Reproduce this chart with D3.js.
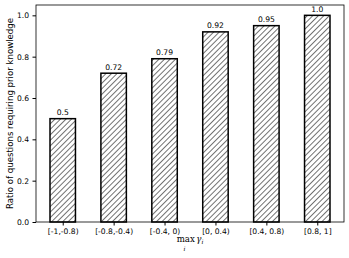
<!DOCTYPE html>
<html>
<head>
<meta charset="utf-8">
<script src="https://cdn.jsdelivr.net/npm/d3@7"></script>
<style>
	body { margin: 0; background: #fff; }
	text { font-family: "DejaVu Sans", sans-serif; }
</style>
</head>
<body>
<svg id="chart" width="349" height="258"></svg>
<script>
var categories = ["[-1,-0.8)", "[-0.8,-0.4)", "[-0.4, 0)", "[0, 0.4)", "[0.4, 0.8)", "[0.8, 1]"];
var ratios = [0.5, 0.72, 0.79, 0.92, 0.95, 1.0];
var valueLabels = ["0.5", "0.72", "0.79", "0.92", "0.95", "1.0"];
var yTicks = [0.0, 0.2, 0.4, 0.6, 0.8, 1.0];

var svg = d3.select("#chart");
var margin = {left: 36, right: 5, top: 5, bottom: 36};
var width = 349, height = 258;
var plotW = width - margin.left - margin.right;
var plotH = height - margin.top - margin.bottom;

var g = svg.append("g").attr("transform", "translate(" + margin.left + "," + margin.top + ")");

// hatch pattern
var hs = 3.9;
var defs = svg.append("defs");
var pat = defs.append("pattern")
	.attr("id", "hatch")
	.attr("patternUnits", "userSpaceOnUse")
	.attr("width", hs)
	.attr("height", hs)
	.attr("patternTransform", "rotate(45)");
pat.append("rect").attr("width", hs).attr("height", hs).attr("fill", "#fff");
pat.append("line").attr("x1", 0).attr("y1", 0).attr("x2", 0).attr("y2", hs)
	.attr("stroke", "#000").attr("stroke-width", 1.1);

// x positions like matplotlib: index units with 5% margin
var idx = d3.range(categories.length);
var barW = 0.5;
var xLin = d3.scaleLinear()
	.domain([-barW / 2 - 0.05 * (categories.length - 1 + barW), categories.length - 1 + barW / 2 + 0.05 * (categories.length - 1 + barW)])
	.range([0, plotW]);
var yScale = d3.scaleLinear().domain([0, 1.05]).range([plotH, 0]);

g.selectAll("rect.bar")
	.data(ratios)
	.enter().append("rect")
	.attr("class", "bar")
	.attr("x", function (d, i) { return xLin(i - barW / 2); })
	.attr("width", xLin(barW) - xLin(0))
	.attr("y", function (d) { return yScale(d); })
	.attr("height", function (d) { return plotH - yScale(d); })
	.attr("fill", "url(#hatch)")
	.attr("stroke", "#000")
	.attr("stroke-width", 1.5);

g.selectAll("text.val")
	.data(ratios)
	.enter().append("text")
	.attr("class", "val")
	.attr("x", function (d, i) { return xLin(i); })
	.attr("y", function (d) { return yScale(d) - 3.5; })
	.attr("text-anchor", "middle")
	.style("font-size", "7.6px")
	.text(function (d, i) { return valueLabels[i]; });

// frame
g.append("rect").attr("width", plotW).attr("height", plotH)
	.attr("fill", "none").attr("stroke", "#000").attr("stroke-width", 0.8);

var yAxis = d3.axisLeft(yScale).tickValues(yTicks).tickFormat(d3.format(".1f")).tickSize(3.5).tickPadding(3.5);
var ya = g.append("g").call(yAxis);
ya.select(".domain").remove();
ya.selectAll("text").style("font-size", "7.6px").style("font-family", "DejaVu Sans");

var xAxis = d3.axisBottom(d3.scaleLinear().domain(xLin.domain()).range(xLin.range()))
	.tickValues(idx).tickFormat(function (d) { return categories[d]; }).tickSize(3.5).tickPadding(3.5);
var xa = g.append("g").attr("transform", "translate(0," + plotH + ")").call(xAxis);
xa.select(".domain").remove();
xa.selectAll("text").style("font-size", "7.6px").style("font-family", "DejaVu Sans");

// y label
svg.append("text")
	.attr("transform", "translate(10," + (margin.top + plotH / 2) + ") rotate(-90)")
	.attr("text-anchor", "middle")
	.attr("dy", "0.35em")
	.style("font-size", "8.6px")
	.text("Ratio of questions requiring prior knowledge");

// x label: max_i gamma_i
var cx = margin.left + plotW / 2;
var xl = svg.append("text")
	.attr("x", cx)
	.attr("y", 242)
	.attr("text-anchor", "middle")
	.style("font-family", "DejaVu Serif")
	.style("font-size", "8.6px");
xl.append("tspan").text("max");
xl.append("tspan").attr("dx", 1.5).attr("font-style", "italic").text("\u03b3");
xl.append("tspan").attr("font-style", "italic").attr("dy", 2).style("font-size", "6px").text("i");
svg.append("text")
	.attr("x", cx - 5.5)
	.attr("y", 251)
	.attr("text-anchor", "middle")
	.style("font-family", "DejaVu Serif")
	.style("font-style", "italic")
	.style("font-size", "6px")
	.text("i");
</script>
</body>
</html>
